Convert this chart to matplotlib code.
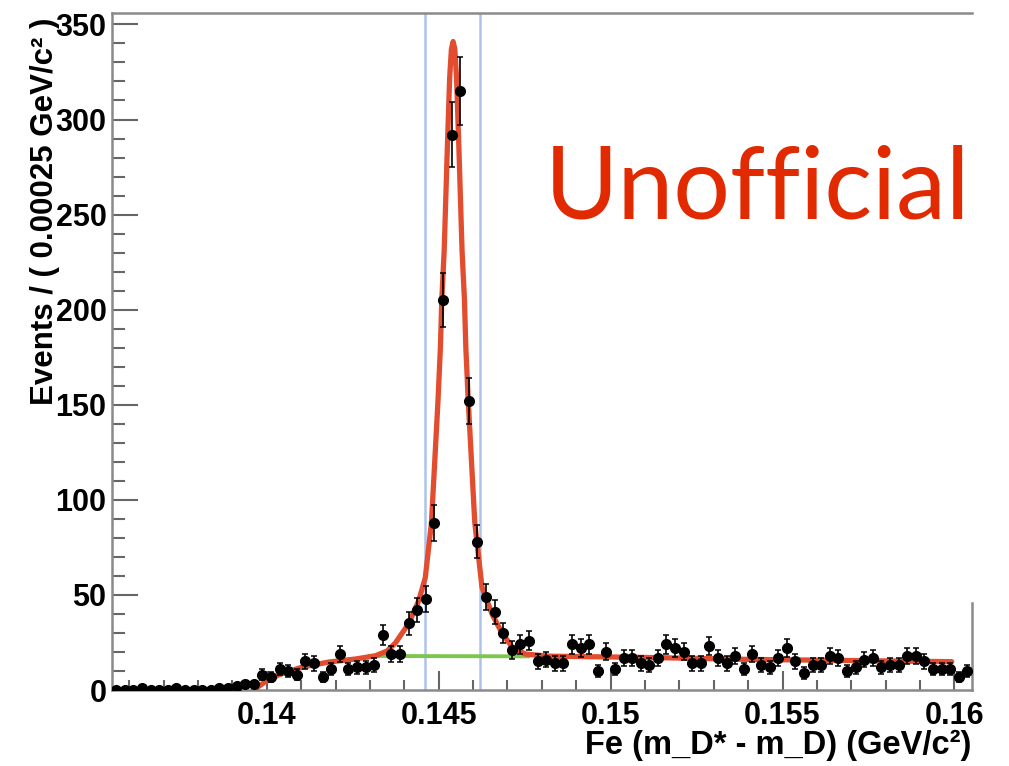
import numpy as np
import matplotlib.pyplot as plt
from matplotlib.ticker import MultipleLocator, FixedLocator

# binned data: 100 bins of 0.00025 from 0.1355 to 0.1605
bin_lo = 0.1355
bin_w = 0.00025
counts = [0, 0, 0, 1, 0, 0, 0, 1, 0, 0, 0, 0, 1, 1,
          2, 3, 3, 8, 7, 11, 10, 8, 15, 14, 7, 11, 19, 11, 12, 12, 13,
          29, 19, 19, 35, 42, 48, 88, 205, 292, 315, 152, 78, 49, 41, 30, 21,
          24, 26, 15, 16, 14, 14, 24, 22, 24, 10, 20, 11, 17, 17, 14, 13,
          17, 24, 22, 20, 14, 14, 23, 17, 14, 18, 11,
          19, 13, 12, 17, 22, 15, 9, 13, 13, 18, 17, 10, 12, 16, 17, 12,
          13, 13, 18, 18, 15, 11, 11, 11, 7, 10]

# fitted total pdf
fit_x = [0.13962, 0.13996, 0.14035, 0.14102, 0.1418, 0.14258, 0.14316, 0.1435,
         0.14374, 0.14413, 0.14442, 0.14461, 0.14479, 0.14498, 0.14505, 0.14509,
         0.14516, 0.14525, 0.14532, 0.14537, 0.14542, 0.14547, 0.14552, 0.14559,
         0.14568, 0.14575, 0.14579, 0.14586, 0.14605, 0.14626, 0.14655, 0.14684,
         0.14713, 0.14752, 0.1482, 0.1511, 0.1526, 0.154, 0.157, 0.15992]
fit_y = [0, 4.4, 8.0, 12.0, 14.7, 16.3, 18.0, 20.5,
         24.7, 35, 47, 59, 88, 152, 180, 205,
         231, 284, 322, 337, 341, 337, 322, 284,
         231, 205, 180, 152, 88, 54, 40, 30,
         22.8, 18.9, 17.8, 17.1, 16.6, 16.1, 15.5, 14.9]

# background component in the signal region
bkg_x = [0.1430, 0.1476]
bkg_y = [17.9, 17.7]

# signal window
window = [0.14461, 0.14621]

counts = np.array(counts, dtype=float)
centers = bin_lo + bin_w * (np.arange(len(counts)) + 0.5)
errs = np.sqrt(counts)

fig = plt.figure(figsize=(10.09, 7.66), dpi=100)
ax = fig.add_axes([0.111, 0.0992, 0.852, 0.8838])

gray = "#8a8a8a"
for xv in window:
    ax.axvline(xv, color="#adc3ec", lw=1.8, zorder=1)

ax.plot(bkg_x, bkg_y, color="#7cc64c", lw=2.8, zorder=2)
ax.plot(fit_x, fit_y, color="#e24d30", lw=3.8, zorder=3,
        solid_joinstyle="round", solid_capstyle="round")
ax.errorbar(centers, counts, yerr=errs, fmt="o", color="black", ms=7,
            elinewidth=1.2, capsize=2.5, capthick=1.1, zorder=4)

ax.set_xlim(bin_lo, bin_lo + bin_w * len(counts))
ax.set_ylim(0, 356)

ax.xaxis.set_major_locator(FixedLocator([0.14, 0.145, 0.15, 0.155, 0.16]))
ax.xaxis.set_minor_locator(MultipleLocator(0.001))
ax.yaxis.set_major_locator(MultipleLocator(50))
ax.yaxis.set_minor_locator(MultipleLocator(10))
ax.set_xticklabels(["0.14", "0.145", "0.15", "0.155", "0.16"])

for lab in ax.get_xticklabels() + ax.get_yticklabels():
    lab.set_fontfamily("Liberation Sans")
    lab.set_fontsize(22)
    lab.set_fontweight("bold")

ax.tick_params(axis="y", which="major", direction="in", length=19, width=1.5,
               color="#666666", pad=4)
ax.tick_params(axis="y", which="minor", direction="in", length=9, width=1.5,
               color="#666666")
ax.tick_params(axis="x", which="major", direction="in", length=14, width=1.5,
               color="#666666", pad=8)
ax.tick_params(axis="x", which="minor", direction="in", length=7, width=1.5,
               color="#666666")

for side in ["left", "bottom", "top", "right"]:
    ax.spines[side].set_color(gray)
    ax.spines[side].set_linewidth(1.8)
ax.spines["right"].set_bounds(0, 46)

tfont = dict(family="Liberation Sans", size=22.5, weight="bold")
fig.text(0.045, 0.9765, "Events / ( 0.00025 GeV/c² )", rotation=90,
         ha="center", va="top", **tfont)
fig.text(0.963, 0.027, "Fe (m_D* - m_D) (GeV/c²)", ha="right",
         va="center", family="Liberation Sans", size=23.5, weight="bold")

fig.text(0.962, 0.7154, "Unofficial", ha="right", va="baseline",
         family="Lato", size=72, color="#e12a00")

fig.savefig("out.png", dpi=100)
